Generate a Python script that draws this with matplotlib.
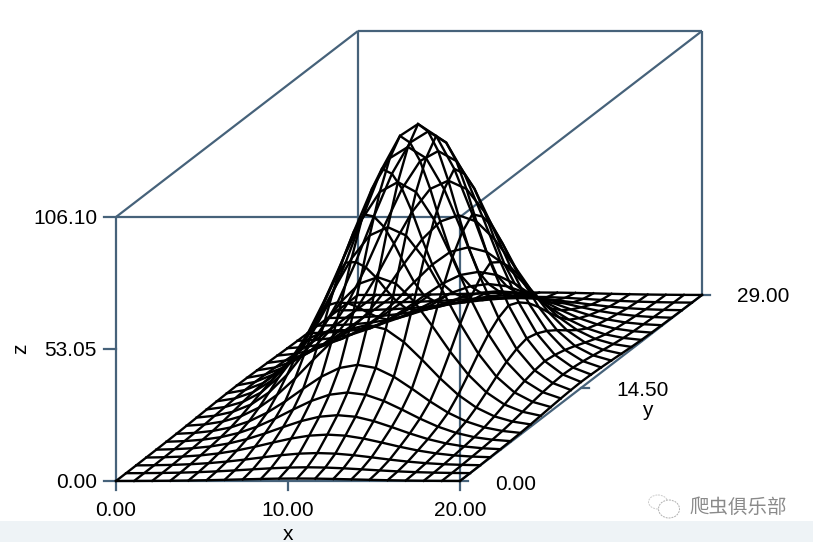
import numpy as np
import matplotlib
matplotlib.use("Agg")
import matplotlib.pyplot as plt
from matplotlib.patches import Ellipse, Rectangle

# Values
x_vals = np.linspace(0, 20, 20)
y_vals = np.linspace(0, 29, 25)
# relative height of a row across x (peak = 1)
x_profile = [0.010, 0.023, 0.051, 0.102, 0.188, 0.313, 0.475, 0.658, 0.830, 0.955, 1.000,
             0.955, 0.830, 0.658, 0.475, 0.313, 0.188, 0.102, 0.051, 0.023]
# z along the ridge, for each y line
y_ridge = [1.0, 2.4, 5.0, 9.3, 14.0, 20.0, 28.0, 41.0, 57.0, 74.0, 89.0, 100.0, 106.1,
           100.0, 89.0, 74.0, 57.0, 41.0, 28.0, 20.0, 14.0, 9.3, 5.0, 2.4, 1.0]
z_max = 106.10
x_ticks = [0.00, 10.00, 20.00]
y_ticks = [0.00, 14.50, 29.00]
z_ticks = [0.00, 53.05, 106.10]
watermark = "爬虫俱乐部"

LINE = "#46627A"
FONT = ["Liberation Sans", "DejaVu Sans"]

# Oblique projection of the 3D box on the picture (pixel units)
ORIGIN = (116.0, 481.0)
X_VEC = (344.0 / 20, 0.0)
Y_VEC = (242.0 / 29, -186.0 / 29)
Z_VEC = (0.0, -264.0 / 106.10)


def project(x, y, z):
    x, y, z = np.asarray(x, float), np.asarray(y, float), np.asarray(z, float)
    px = ORIGIN[0] + x * X_VEC[0] + y * Y_VEC[0] + z * Z_VEC[0]
    py = ORIGIN[1] + x * X_VEC[1] + y * Y_VEC[1] + z * Z_VEC[1]
    return px, py


fig = plt.figure(figsize=(8.13, 5.42), dpi=100, facecolor="white")
ax = fig.add_axes([0, 0, 1, 1])
ax.set_xlim(0, 813)
ax.set_ylim(542, 0)
ax.axis("off")

ax.add_patch(Rectangle((0, 521), 813, 21, fc="#EEF3F6", ec="none", zorder=0))

x_max, y_max = x_ticks[-1], y_ticks[-1]


def edge(p, q, **kw):
    px, py = project(*zip(p, q))
    ax.plot(px, py, color=LINE, lw=1.6, solid_capstyle="butt", zorder=1, **kw)


# Box edges
edge((0, 0, 0), (0, 0, z_max))
edge((0, 0, z_max), (x_max, 0, z_max))
edge((x_max, 0, 0), (x_max, 0, z_max))
edge((0, 0, 0), (x_max, 0, 0))
edge((0, 0, z_max), (0, y_max, z_max))
edge((x_max, 0, z_max), (x_max, y_max, z_max))
edge((0, y_max, z_max), (x_max, y_max, z_max))
edge((0, y_max, 0), (0, y_max, z_max))
edge((x_max, y_max, 0), (x_max, y_max, z_max))
edge((x_max, 0, 0), (x_max, y_max, 0))

# Ticks
for v in x_ticks:
    px, py = project(v, 0, 0)
    ax.plot([px, px], [py, py + 9], color=LINE, lw=1.6, zorder=1)
    ax.text(px, 510, f"{v:.2f}", ha="center", va="center", fontsize=15, family=FONT)
for v in z_ticks:
    px, py = project(0, 0, v)
    ax.plot([px - 12, px], [py, py], color=LINE, lw=1.6, zorder=1)
    ax.text(97, py + 2, f"{v:.2f}", ha="right", va="center", fontsize=15, family=FONT)
for v, dy in zip(y_ticks, (3, 3, 1)):
    px, py = project(x_max, v, 0)
    ax.plot([px, px + 8], [py, py], color=LINE, lw=1.6, zorder=1)
    ax.text(px + 35, py + dy, f"{v:.2f}", ha="left", va="center", fontsize=15, family=FONT)

ax.text(288, 534, "x", ha="center", va="center", fontsize=15, family=FONT)
ax.text(647, 410, "y", ha="center", va="center", fontsize=15, family=FONT)
ax.text(21, 349, "z", ha="center", va="center", fontsize=15, rotation=90, family=FONT)

# Wire-frame surface, no hidden-line removal
Z = np.outer(y_ridge, x_profile)
XX, YY = np.meshgrid(x_vals, y_vals)
PX, PY = project(XX, YY, Z)
for i in range(len(y_vals)):
    ax.plot(PX[i, :], PY[i, :], color="black", lw=1.7, solid_joinstyle="miter", zorder=2)
for j in range(len(x_vals)):
    ax.plot(PX[:, j], PY[:, j], color="black", lw=1.7, solid_joinstyle="miter", zorder=2)

# Watermark
ax.text(738, 507, watermark, ha="center", va="center", fontsize=14, color="#8a8a8a",
        family=["Noto Sans CJK SC", "DejaVu Sans"], zorder=3)
ax.add_patch(Ellipse((658, 502), 19, 14, fc="none", ec="#cccccc", lw=0.7, ls=(0, (2, 1)), zorder=3))
ax.add_patch(Ellipse((669, 509), 21, 18, fc="white", ec="#b0b0b0", lw=0.7, ls=(0, (2, 1)), zorder=3))

fig.savefig("out.png", dpi=100, facecolor="white")
